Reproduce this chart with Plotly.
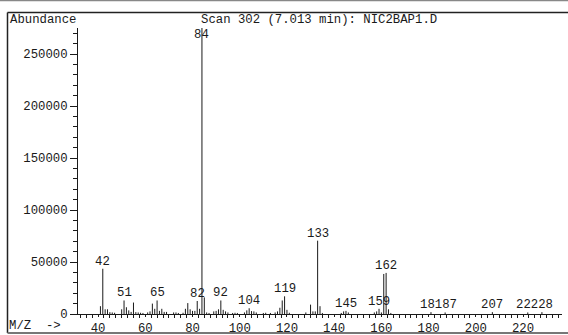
import plotly.graph_objects as go

# ---- data ----
mz = [41, 42, 43, 44, 45, 46, 47, 50, 51, 52, 53, 54, 55, 56, 57, 58, 59, 61, 62, 63, 64, 65,
      66, 67, 68, 69, 72, 73, 74, 76, 77, 78, 79, 80, 81, 82, 83, 84, 85, 86, 87, 89, 90, 91,
      92, 93, 94, 95, 97, 98, 99, 102, 103, 104, 105, 106, 107, 110, 111, 113, 115, 116, 117,
      118, 119, 120, 121, 128, 130, 131, 132, 133, 134, 135, 143, 144, 145, 146, 157, 158, 159,
      160, 161, 162, 163, 164, 181, 187, 207, 222, 228]
abundance = [7500, 43500, 4500, 4500, 1800, 1500, 1200, 4500, 13000, 6500, 3500, 2000, 11000,
             1800, 1500, 1200, 1000, 1500, 2500, 10000, 5000, 13000, 3000, 5000, 2000, 2000,
             1500, 1500, 1000, 1200, 5000, 10500, 4500, 3000, 3000, 12500, 5000, 275000, 16000,
             1500, 1000, 2500, 3000, 4500, 13000, 4000, 2500, 1500, 1000, 1200, 1000, 1500,
             3500, 5500, 2800, 2500, 1500, 1000, 1200, 1000, 1500, 2500, 6000, 13000, 17000,
             4000, 1200, 1500, 9000, 2500, 2500, 70500, 7500, 1000, 1000, 2500, 3000, 1500,
             1500, 2500, 5000, 1500, 38500, 39500, 4500, 1000, 1800, 1500, 1800, 1500, 1800]
labeled_mz = [42, 51, 65, 82, 84, 92, 104, 119, 133, 145, 159, 162, 181, 187, 207, 222, 228]

title_left = "Abundance"
title_main = "Scan 302 (7.013 min): NIC2BAP1.D"
x_caption = "M/Z\u00a0\u00a0->"

X_RANGE = [31.5, 236.5]
Y_RANGE = [0, 275000]
FONT = "Liberation Mono, Courier New, monospace"
FS = 12.3
INK = "#1a1a1a"

# paper coords: plot area spans px 78..562 (x) and 28..314 (y)
L, R, T, B = 78, 6, 28, 21
W, H = 568 - L - R, 335 - T - B
def px(x): return (x - L) / W
def py(y): return (335 - B - y) / H
CHAR_W = 0.6 * FS
PX_PER_MZ = W / (X_RANGE[1] - X_RANGE[0])
PX_PER_AB = H / (Y_RANGE[1] - Y_RANGE[0])

# stick spectrum built from the arrays
xs, ys = [], []
for m, a in zip(mz, abundance):
    xs += [m, m, None]
    ys += [0, a, None]

fig = go.Figure(go.Scatter(x=xs, y=ys, mode="lines",
                           line=dict(color=INK, width=1), hoverinfo="skip",
                           showlegend=False))

ab = dict(zip(mz, abundance))

# labels that the instrument prints over each other (same height, close m/z,
# e.g. 181+187 -> "18187") are printed as one text with the shared character once
groups = []
for m in labeled_mz:
    if groups:
        p = groups[-1][-1]
        dx = (m - p) * PX_PER_MZ
        dy = abs(ab[m] - ab[p]) * PX_PER_AB
        if dx < (len(str(p)) + len(str(m))) / 2 * CHAR_W and dy < FS:
            groups[-1].append(m)
            continue
    groups.append([m])

annotations = []
for g in groups:
    text = str(g[0])
    for m in g[1:]:
        start = round((m - g[0]) * PX_PER_MZ / CHAR_W)
        text = text[:start] + str(m)
    a = max(ab[m] for m in g)
    xc = (g[0] + g[-1]) / 2
    top = a > 0.9 * Y_RANGE[1]
    annotations.append(dict(x=xc, y=a, xref="x", yref="y", text=text, showarrow=False,
                            yanchor="top" if top else "bottom", xanchor="center",
                            yshift=2 if top else -2,
                            font=dict(family=FONT, size=FS, color=INK)))

annotations += [
    dict(x=px(8), y=py(20), xref="paper", yref="paper", text=title_left, showarrow=False,
         xanchor="left", yanchor="middle", font=dict(family=FONT, size=FS, color=INK)),
    dict(x=px(199), y=py(20), xref="paper", yref="paper", text=title_main, showarrow=False,
         xanchor="left", yanchor="middle", font=dict(family=FONT, size=FS, color=INK)),
    dict(x=px(7), y=py(326), xref="paper", yref="paper", text=x_caption, showarrow=False,
         xanchor="left", yanchor="middle", font=dict(family=FONT, size=FS, color=INK)),
]

frame = dict(color="#222", width=1.5)
shapes = [
    dict(type="line", xref="paper", yref="paper", x0=px(7.5), x1=px(568), y0=py(12.5), y1=py(12.5), line=frame),
    dict(type="line", xref="paper", yref="paper", x0=px(7.5), x1=px(7.5), y0=py(12.5), y1=py(333), line=frame),
    dict(type="line", xref="paper", yref="paper", x0=px(7.5), x1=px(568), y0=py(333), y1=py(333), line=dict(color="#777", width=2)),
    dict(type="line", xref="paper", yref="paper", x0=px(0), x1=px(568), y0=py(0.5), y1=py(0.5), line=dict(color="#888", width=1.5)),
]

fig.update_layout(
    width=568, height=335, margin=dict(l=L, r=R, t=T, b=B, autoexpand=False),
    paper_bgcolor="white", plot_bgcolor="white",
    annotations=annotations, shapes=shapes,
    font=dict(family=FONT, size=FS, color=INK),
    xaxis=dict(range=X_RANGE, showgrid=False, zeroline=False, showline=True, automargin=False,
               linecolor=INK, linewidth=1, ticks="outside", ticklen=2, tickwidth=1,
               tickcolor=INK, tick0=0, dtick=20,
               tickfont=dict(family=FONT, size=FS, color=INK),
               minor=dict(dtick=2.5, ticks="outside", ticklen=3, tickcolor=INK, showgrid=False)),
    yaxis=dict(range=Y_RANGE, showgrid=False, zeroline=False, showline=True, automargin=False,
               linecolor=INK, linewidth=1, ticks="outside", ticklen=7, tickwidth=1,
               tickcolor=INK, tick0=0, dtick=50000, tickformat="d",
               tickfont=dict(family=FONT, size=FS, color=INK),
               minor=dict(dtick=10000, ticks="outside", ticklen=4, tickcolor=INK, showgrid=False)),
)

fig.write_html("out.html")
